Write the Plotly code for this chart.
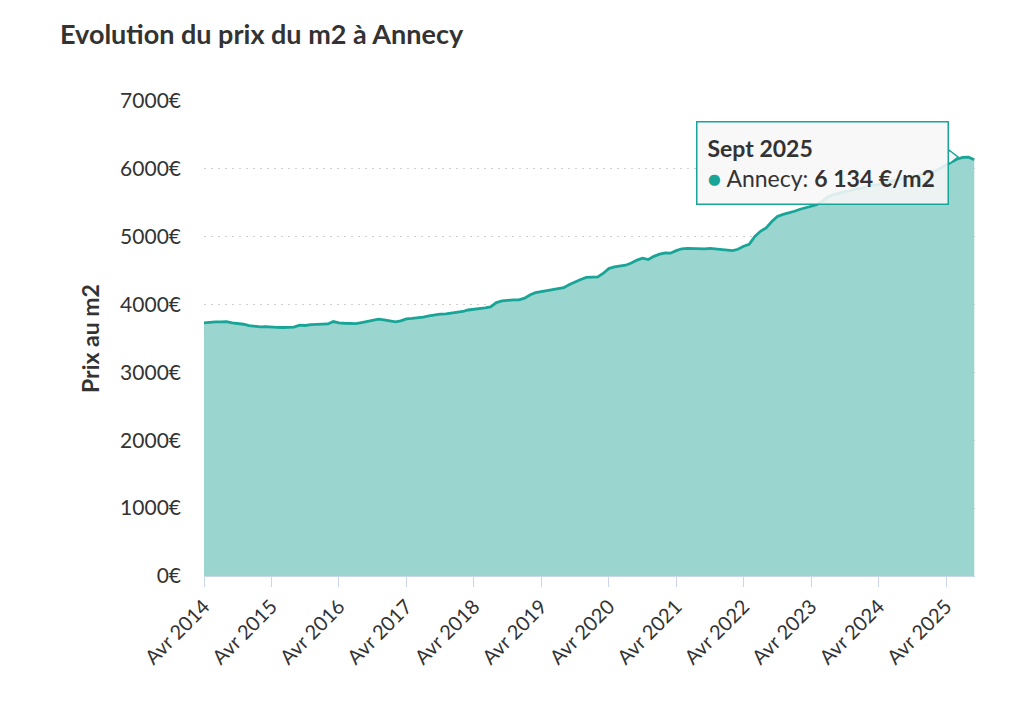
import plotly.graph_objects as go
import pandas as pd

start_month = "2014-04-01"
prices = [
    3730, 3740, 3745, 3745, 3750, 3730, 3725, 3710, 3690, 3680, 3670, 3675,
    3665, 3665, 3662, 3662, 3668, 3697, 3692, 3705, 3711, 3712, 3715, 3750,
    3730, 3725, 3722, 3720, 3735, 3751, 3775, 3785, 3775, 3760, 3745, 3760,
    3790, 3795, 3800, 3815, 3835, 3850, 3858, 3864, 3873, 3885, 3898, 3920,
    3928, 3935, 3950, 3966, 4030, 4054, 4065, 4070, 4069, 4094, 4145, 4175,
    4190, 4205, 4215, 4226, 4250, 4295, 4335, 4370, 4400, 4403, 4408, 4458,
    4530, 4555, 4568, 4580, 4612, 4655, 4683, 4664, 4710, 4742, 4760, 4757,
    4795, 4822, 4828, 4826, 4818, 4820, 4828, 4818, 4805, 4798, 4796, 4815,
    4860, 4889, 5005, 5080, 5130, 5225, 5300, 5330, 5348, 5375, 5405, 5425,
    5442, 5470, 5520, 5590, 5620, 5648, 5665, 5678, 5705, 5715, 5735, 5760,
    5768, 5785, 5815, 5835, 5855, 5870, 5890, 5905, 5920, 5945, 5965, 6010,
    6060, 6100, 6145, 6170, 6172, 6134,
]
dates = pd.date_range(start_month, periods=len(prices), freq="MS")

x_tick_vals = pd.date_range("2014-04-01", "2025-04-01", freq="12MS")
x_tick_text = [f"Avr {d.year}" for d in x_tick_vals]
y_tick_vals = [0, 1000, 2000, 3000, 4000, 5000, 6000, 7000]
y_tick_text = [f"{v}€" for v in y_tick_vals]

tooltip_title = "Sept 2025"
tooltip_series = "Annecy"
tooltip_value = "6 134 €/m2"

LINE = "#18a597"
FILL = "#9ad5cf"
TXT = "#333333"
FONT = "Lato"
TIP_BG = "rgba(247,247,247,0.88)"
TIP_SOLID = "#f7f7f7"

fig = go.Figure()
fig.add_trace(go.Scatter(
    x=dates, y=prices, mode="lines", fill="tozeroy",
    line=dict(color=LINE, width=2.8), fillcolor=FILL, hoverinfo="skip",
))

OFF = 8  # page body margin
W, H = 1024, 705
# desired on-screen plot box
SL, SR, ST, SB = 204, 975, 101, 576
L, T = SL - OFF, ST - OFF
R = W - (SR - OFF)
B = H - (SB - OFF)
pw, ph = SR - SL, SB - ST

def px(x):
    return (x - SL) / pw

def py(y):
    return (SB - y) / ph

fig.update_layout(
    width=W, height=H,
    margin=dict(l=L, r=R, t=T, b=B),
    plot_bgcolor="white", paper_bgcolor="white",
    showlegend=False,
    font=dict(family=FONT, color=TXT),
    title=dict(text="<b>Evolution du prix du m2 à Annecy</b>", x=(60 - OFF) / W, xanchor="left",
               y=1 - (35 - OFF) / H, yanchor="middle", font=dict(size=27, color=TXT, family=FONT)),
    xaxis=dict(
        range=[dates[0], dates[-1] + pd.Timedelta(days=4)],
        tickvals=x_tick_vals, ticktext=x_tick_text, tickangle=-45,
        tickfont=dict(size=20, color=TXT), showgrid=False,
        showline=True, linecolor="#ccd6eb", linewidth=1,
        ticks="outside", ticklen=10, tickcolor="#ccd6eb", zeroline=False,
    ),
    yaxis=dict(
        range=[0, 7000], tickvals=y_tick_vals, ticktext=y_tick_text,
        tickfont=dict(size=21, color=TXT), showgrid=True,
        gridcolor="#cfcfcf", griddash="2px,5px", gridwidth=1.2, zeroline=False,
        ticks="", ticklabelstandoff=22,
        title=dict(text="<b>Prix au m2</b>", font=dict(size=23, color=TXT), standoff=14),
    ),
)

# tooltip
fig.add_annotation(
    xref="paper", yref="paper", x=px(696), y=py(121), xanchor="left", yanchor="top",
    showarrow=False, align="left", valign="middle", width=230, height=61,
    bgcolor=TIP_BG, bordercolor=LINE, borderwidth=1.5, borderpad=10,
    text=(f"<b>{tooltip_title}</b><br><span style='color:{LINE}'>●</span> "
          f"{tooltip_series}: <b>{tooltip_value}</b>"),
    font=dict(size=23, color=TXT, family=FONT),
)
# tooltip notch
fig.add_shape(type="path", xref="paper", yref="paper",
              path=f"M {px(949)} {py(150)} L {px(958)} {py(157)} L {px(949)} {py(164)} Z",
              fillcolor=TIP_SOLID, line=dict(color=LINE, width=1.5), layer="above")
fig.add_shape(type="path", xref="paper", yref="paper",
              path=f"M {px(948)} {py(151.5)} L {px(948)} {py(162.5)} L {px(950.5)} {py(162)} L {px(950.5)} {py(152)} Z",
              fillcolor=TIP_SOLID, line=dict(width=0), layer="above")

fig.write_html("out.html")
